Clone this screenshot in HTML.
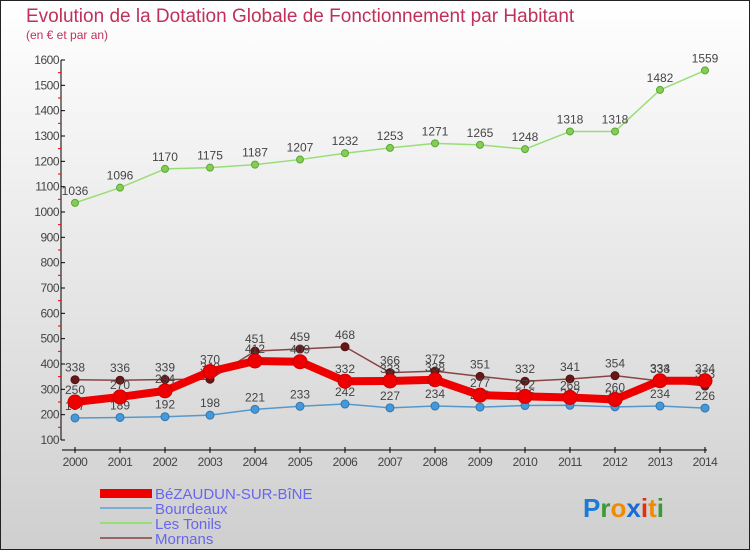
<!DOCTYPE html>
<html><head><meta charset="utf-8"><style>
body{margin:0}
#c{width:750px;height:550px;position:relative;overflow:hidden}
svg text{font-family:"Liberation Sans",sans-serif}
</style></head><body>
<div id="c">
<svg id="s" width="750" height="550" xmlns="http://www.w3.org/2000/svg">
<defs><linearGradient id="bg" x1="0" y1="0" x2="0" y2="1"><stop offset="0" stop-color="#ffffff"/><stop offset="1" stop-color="#cfcfcf"/></linearGradient></defs>
<rect x="0.5" y="0.5" width="749" height="549" fill="url(#bg)" stroke="#222"/>
<text x="26" y="22" font-size="19" fill="#c0305a">Evolution de la Dotation Globale de Fonctionnement par Habitant</text>
<text x="26" y="39" font-size="12" fill="#c0305a">(en € et par an)</text>
<g id="axes"></g><g id="series"></g>
<g>
<rect x="100" y="489" width="52" height="9" fill="#e00"/>
<text x="155" y="499" font-size="15" fill="#6666ee">BéZAUDUN-SUR-BîNE</text>
<line x1="100" y1="508" x2="152" y2="508" stroke="#7aaed4" stroke-width="2"/>
<text x="155" y="514" font-size="15" fill="#6666ee">Bourdeaux</text>
<line x1="100" y1="523" x2="152" y2="523" stroke="#99dd77" stroke-width="2"/>
<text x="155" y="529" font-size="15" fill="#6666ee">Les Tonils</text>
<line x1="100" y1="538" x2="152" y2="538" stroke="#996666" stroke-width="2"/>
<text x="155" y="544" font-size="15" fill="#6666ee">Mornans</text>
</g>
<text x="583" y="517" font-size="26" font-weight="bold"><tspan fill="#1a7ad4">P</tspan><tspan fill="#3a9a3a">r</tspan><tspan fill="#f08a00">o</tspan><tspan fill="#1a6ad4">x</tspan><tspan fill="#e03010">i</tspan><tspan fill="#f08a00">t</tspan><tspan fill="#3a9a3a">i</tspan></text>
</svg></div>
<script>
const years=[2000,2001,2002,2003,2004,2005,2006,2007,2008,2009,2010,2011,2012,2013,2014];
const bezaudun=[250,270,294,370,412,409,332,333,338,277,272,268,260,334,334];
const bourdeaux=[187,189,192,198,221,233,242,227,234,230,236,237,231,234,226];
const tonils=[1036,1096,1170,1175,1187,1207,1232,1253,1271,1265,1248,1318,1318,1482,1559];
const mornans=[338,336,339,340,451,459,468,366,372,351,332,341,354,333,313];
const yTicks=[100,200,300,400,500,600,700,800,900,1000,1100,1200,1300,1400,1500,1600];
const NS="http://www.w3.org/2000/svg";
const x=i=>75+i*45;
const y=v=>440-(v-100)*380/1500;
function mk(t,a,p){const e=document.createElementNS(NS,t);for(const k in a)e.setAttribute(k,a[k]);p.appendChild(e);return e;}
const ax=document.getElementById('axes'),sr=document.getElementById('series');
mk('line',{x1:61,y1:60,x2:61,y2:440,stroke:'#000'},ax);
yTicks.forEach(v=>{
 const g=mk('g',{},ax);
 
 
 mk('line',{x1:61,y1:y(v),x2:65,y2:y(v),stroke:'#000'},g);
 if(v<1600)mk('line',{x1:58,y1:y(v+50),x2:61,y2:y(v+50),stroke:'#e00'},g);
 const t=mk('text',{x:59,y:y(v)+4,'font-size':12,fill:'#444','text-anchor':'end','letter-spacing':'-0.5'},g);t.textContent=v;
});
mk('line',{x1:62,y1:450,x2:707,y2:450,stroke:'#000'},ax);
years.forEach((yr,i)=>{
 const g=mk('g',{},ax);
 
 
 mk('line',{x1:x(i),y1:447,x2:x(i),y2:453,stroke:'#000'},g);
 const t=mk('text',{x:x(i),y:466,'font-size':12,fill:'#444','text-anchor':'middle','letter-spacing':'-0.5'},g);t.textContent=yr;
});
function series(name,vals,col,w,r,dot,stroke){
 const g=mk('g',{},sr);
 
 
 mk('polyline',{points:vals.map((v,i)=>x(i)+','+y(v)).join(' '),fill:'none',stroke:col,'stroke-width':w,'stroke-linejoin':'round'},g);
 vals.forEach((v,i)=>{
  const c=mk('circle',{cx:x(i),cy:y(v),r:r,fill:dot,stroke:stroke,'stroke-width':1},g);
  
  
  const t=mk('text',{x:x(i),y:y(v)-8,'font-size':12,fill:'#444','text-anchor':'middle'},g);t.textContent=v;
 });
}
series('tonils-line',tonils,'#99dd77',1.5,3.5,'#88cc55','#55aa33');
series('bourdeaux-line',bourdeaux,'#5599cc',1.5,4,'#4499dd','#3377aa');
series('mornans-line',mornans,'#884444',1.5,4,'#661818','#551111');
series('bezaudun-line',bezaudun,'#ee0000',8,7,'#ee0000','#cc0000');
</script>
</body></html>
